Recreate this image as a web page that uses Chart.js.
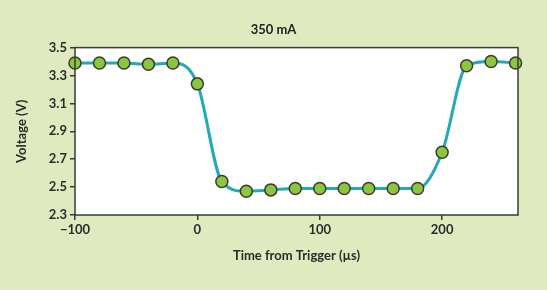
<!DOCTYPE html>
<html>
<head>
<meta charset="utf-8">
<script src="https://cdn.jsdelivr.net/npm/chart.js@4"></script>
<style>
  html, body { margin: 0; padding: 0; background: #e0eabf; }
  #wrap { width: 547px; height: 290px; }
</style>
</head>
<body>
<div id="wrap"><canvas id="myChart" width="547" height="290"></canvas></div>
<script>
var times = [-100, -80, -60, -40, -20, 0, 20, 40, 60, 80, 100, 120, 140, 160, 180, 200, 220, 240, 260];
var voltage = [3.39, 3.39, 3.39, 3.38, 3.39, 3.24, 2.54, 2.47, 2.48, 2.49, 2.49, 2.49, 2.49, 2.49, 2.49, 2.75, 3.37, 3.40, 3.39];
var xTicks = [-100, 0, 100, 200];
var yTicks = [2.3, 2.5, 2.7, 2.9, 3.1, 3.3, 3.5];

var bg = '#e0eabf';
var ink = '#3a3a3a';
var font = 'Lato, "Noto Sans", sans-serif';

var points = times.map(function (t, i) { return { x: t, y: voltage[i] }; });

// page background + white plot area + frame
var backdrop = {
  id: 'backdrop',
  afterLayout: function (c) {
    // center the title on the whole page, not just the padded box
    if (c.titleBlock) {
      c.titleBlock.left = 0;
      c.titleBlock.right = c.width;
      c.titleBlock.width = c.width;
    }
  },
  beforeDraw: function (c) {
    var ctx = c.ctx, a = c.chartArea;
    ctx.save();
    ctx.fillStyle = bg;
    ctx.fillRect(0, 0, c.width, c.height);
    ctx.fillStyle = '#ffffff';
    ctx.fillRect(a.left, a.top, a.right - a.left, a.bottom - a.top);
    ctx.restore();
  },
  afterDatasetsDraw: function (c) {
    var ctx = c.ctx, a = c.chartArea;
    ctx.save();
    ctx.strokeStyle = ink;
    ctx.lineWidth = 1.5;
    ctx.strokeRect(a.left, a.top, a.right - a.left, a.bottom - a.top);
    ctx.restore();
  }
};

var chart = new Chart(document.getElementById('myChart'), {
  type: 'line',
  data: {
    datasets: [{
      data: points,
      borderColor: '#25a9b6',
      borderWidth: 3,
      cubicInterpolationMode: 'monotone',
      pointRadius: 6,
      pointBackgroundColor: '#8cc63f',
      pointBorderColor: '#3b3b30',
      pointBorderWidth: 1.5,
      clip: false
    }]
  },
  options: {
    responsive: false,
    animation: false,
    layout: { padding: { left: 0, right: 29, top: 0, bottom: 0 } },
    plugins: {
      legend: { display: false },
      tooltip: { enabled: false },
      title: {
        display: true,
        text: '350 mA',
        color: '#222',
        font: { family: font, size: 13, weight: 'bold' },
        padding: { top: 22, bottom: 10 }
      }
    },
    scales: {
      x: {
        type: 'linear',
        min: -100,
        max: 262,
        afterFit: function (s) { s.height = 75; },
        afterBuildTicks: function (s) { s.ticks = xTicks.map(function (v) { return { value: v }; }); },
        ticks: {
          color: '#2b2b2b',
          font: { family: font, size: 13, weight: 'bold' },
          padding: 2,
          callback: function (v) { return v < 0 ? '\u2212' + Math.abs(v) : String(v); }
        },
        grid: { drawOnChartArea: false, drawTicks: true, tickLength: 5, color: ink, lineWidth: 1.5 },
        border: { display: false },
        title: {
          display: true,
          text: 'Time from Trigger (\u00b5s)',
          color: '#2b2b2b',
          font: { family: font, size: 13, weight: 'bold' },
          padding: { top: 0, bottom: 26 }
        }
      },
      y: {
        type: 'linear',
        min: 2.3,
        max: 3.5,
        afterFit: function (s) { s.width = 75; },
        afterBuildTicks: function (s) { s.ticks = yTicks.map(function (v) { return { value: v }; }); },
        ticks: {
          color: '#2b2b2b',
          font: { family: font, size: 13, weight: 'bold' },
          padding: 3,
          callback: function (v) { return v.toFixed(1); }
        },
        grid: { drawOnChartArea: false, drawTicks: true, tickLength: 5, color: ink, lineWidth: 1.5 },
        border: { display: false },
        title: {
          display: true,
          text: 'Voltage (V)',
          color: '#2b2b2b',
          font: { family: font, size: 13, weight: 'bold' },
          padding: { top: 14, bottom: 0 }
        }
      }
    }
  },
  plugins: [backdrop]
});
</script>
</body>
</html>
